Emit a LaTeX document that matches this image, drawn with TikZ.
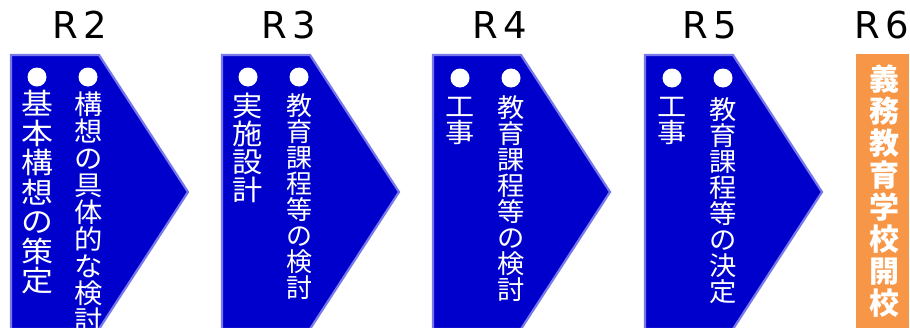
\documentclass[tikz,border=0pt]{standalone}
\usepackage{fontspec}
\newfontfamily\cjk{Noto Sans CJK JP}
\newfontfamily\latinlab{DejaVu Sans}
\definecolor{arrowblue}{RGB}{0,0,204}
\definecolor{glowblue}{RGB}{120,120,235}
\definecolor{boxorange}{RGB}{247,150,70}
\tikzset{
  stage/.style={fill=arrowblue, draw=glowblue, line width=2.2pt, line join=miter},
  yearlab/.style={font={\latinlab\fontsize{37}{37}\selectfont}, anchor=base, inner sep=0pt},
  bulletdot/.style={circle, fill=white, minimum size=19pt, inner sep=0pt},
  vcol/.style n args={3}{text=white, anchor=north, inner sep=0pt, align=center,
    font={\cjk\fontsize{#1}{#2}\selectfont\lineskiplimit=-40pt\relax}, xscale=#3},
}
\newcommand{\stagepath}[1]{%
  \path[stage] (#1,55) -- ++(88,0) -- ++(89,137) -- ++(-89,137) -- ++(-88,0) -- cycle;}
\begin{document}
\begin{tikzpicture}[x=1pt,y=-1pt]
\useasboundingbox (0,0) rectangle (910,327);
\clip (0,0) rectangle (910,327);
\fill[white] (0,0) rectangle (910,327);

% year labels
\node[yearlab] (y2) at (80,38) {R\hspace{5pt}2};
\node[yearlab] (y3) at (289,38) {R\hspace{5pt}3};
\node[yearlab] (y4) at (500,38) {R\hspace{5pt}4};
\node[yearlab] (y5) at (710,38) {R\hspace{5pt}5};
\node[yearlab] (y6) at (882,38) {R\hspace{5pt}6};

% stage arrows
\stagepath{11}
\stagepath{222}
\stagepath{433}
\stagepath{645}

% R2
\node[bulletdot] (b2a) at (37,77) {};
\node[bulletdot] (b2b) at (88,77) {};
\node[vcol={29}{29.5}{1.1}] (t2a) at (37,90) {基\\本\\構\\想\\の\\策\\定};
\node[vcol={27}{27}{1.05}] (t2b) at (89,92) {構\\想\\の\\具\\体\\的\\な\\検\\討};

% R3
\node[bulletdot] (b3a) at (248,77) {};
\node[bulletdot] (b3b) at (299,77) {};
\node[vcol={28}{28}{1.08}] (t3a) at (248,93) {実\\施\\設\\計};
\node[vcol={26}{26}{1.0}] (t3b) at (299,93) {教\\育\\課\\程\\等\\の\\検\\討};

% R4
\node[bulletdot] (b4a) at (460,78) {};
\node[bulletdot] (b4b) at (511,78) {};
\node[vcol={26.5}{26.5}{1.1}] (t4a) at (460,97) {工\\事};
\node[vcol={26}{26}{1.05}] (t4b) at (511,95) {教\\育\\課\\程\\等\\の\\検\\討};

% R5
\node[bulletdot] (b5a) at (672,78) {};
\node[bulletdot] (b5b) at (723,78) {};
\node[vcol={26.5}{26.5}{1.1}] (t5a) at (672,97) {工\\事};
\node[vcol={26}{26}{1.05}] (t5b) at (723,97) {教\\育\\課\\程\\等\\の\\決\\定};

% R6 box
\fill[boxorange] (856,54) rectangle (909,330);
\node[vcol={30}{32}{1.0}, font={\cjk\bfseries\fontsize{30}{32}\selectfont\lineskiplimit=-40pt\relax}] (t6) at (884,65) {義\\務\\教\\育\\学\\校\\開\\校};
\end{tikzpicture}
\end{document}
